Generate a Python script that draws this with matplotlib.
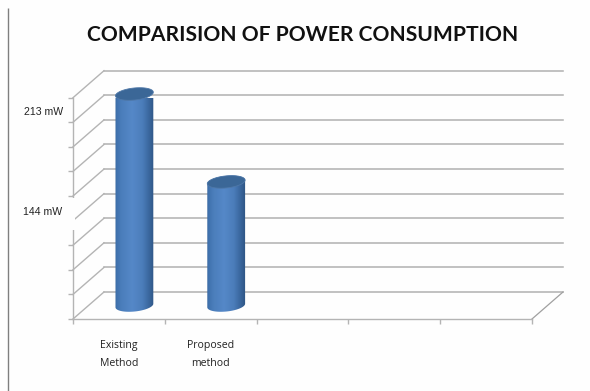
import matplotlib
matplotlib.use('Agg')
import matplotlib.pyplot as plt
import numpy as np
from matplotlib.patches import Polygon, Rectangle

title = 'COMPARISION OF POWER CONSUMPTION'
methods = ['Existing\nMethod', 'Proposed\nmethod']
power_mw = [213, 144]
power_labels = ['213 mW', '144 mW']

W, H = 590, 391
LEFT, RIGHT, TOP, BOTTOM = 73, 532, 97.7, 319   # front plane, pixels
Y0, GRID_STEP, N_GRID = 47, 19.3, 9             # value axis does not start at zero
N_SLOTS = 5

GRID = '#b4b4b4'
plt.rcParams['font.family'] = ['Liberation Sans', 'DejaVu Sans']

fig = plt.figure(figsize=(W / 100, H / 100), dpi=100, facecolor='#fefefe')
ax = fig.add_axes([LEFT / W, 1 - BOTTOM / H, (RIGHT - LEFT) / W, (BOTTOM - TOP) / H])
ax.patch.set_alpha(0)
y_max = Y0 + N_GRID * GRID_STEP
ax.set_xlim(0, N_SLOTS)
ax.set_ylim(Y0, y_max)

# pixels to data units
px_x = N_SLOTS / (RIGHT - LEFT)
px_y = (y_max - Y0) / (BOTTOM - TOP)
depth_x, depth_y = 31 * px_x, 27 * px_y

# back wall, side wall and floor
levels = Y0 + GRID_STEP * np.arange(N_GRID + 1)
for lev in levels:
    ax.plot([depth_x, N_SLOTS + depth_x], [lev + depth_y] * 2, color=GRID, lw=1.15, clip_on=False, zorder=1)
    ax.plot([0, depth_x], [lev, lev + depth_y], color=GRID, lw=1.0, clip_on=False, zorder=1)
ax.plot([N_SLOTS, N_SLOTS + depth_x], [Y0, Y0 + depth_y], color='#a0a0a0', lw=0.9, clip_on=False, zorder=1)

for s in ['top', 'right']:
    ax.spines[s].set_visible(False)
for s in ['left', 'bottom']:
    ax.spines[s].set_color(GRID)
    ax.spines[s].set_linewidth(1.0)
ax.set_yticks(levels)
ax.set_yticklabels([])
ax.set_xticks(np.arange(N_SLOTS + 1))
ax.set_xticklabels([])
ax.tick_params(axis='both', which='major', color=GRID, width=1.0, length=3.6)
ax.set_xticks(np.arange(len(methods)) + 0.5, minor=True)
ax.set_xticklabels(methods, minor=True, family='Open Sans', fontsize=7.6, color='#222222', linespacing=1.95)
ax.tick_params(axis='x', which='minor', length=0, pad=15)


def ellipse_pts(cx, cy, t, a=19.0, b=6.0, tilt=np.radians(6)):
    dx = a * np.cos(t) * np.cos(tilt) - b * np.sin(t) * np.sin(tilt)
    dy = a * np.cos(t) * np.sin(tilt) + b * np.sin(t) * np.cos(tilt)
    return np.column_stack([cx + dx * px_x, cy + dy * px_y])


# colour across the cylinder: dark rim, light middle
stops = [0.0, 0.05, 0.18, 0.45, 0.7, 0.86, 1.0]
rgb = np.array([[0x30, 0x5c, 0x92], [0x3e, 0x70, 0xac], [0x4b, 0x7e, 0xbb], [0x55, 0x88, 0xc8],
                [0x4b, 0x7d, 0xba], [0x3a, 0x67, 0x9e], [0x2e, 0x54, 0x82]]) / 255
u = np.linspace(0, 1, 80)
shade = np.column_stack([np.interp(u, stops, rgb[:, i]) for i in range(3)])[None, :, :]

half_w = 20 * px_x
for i, value in enumerate(power_mw):
    cx = i + 0.5 + depth_x / 2
    base = Y0 + depth_y / 2
    top = value + depth_y / 2
    lower = ellipse_pts(cx, base, np.linspace(np.pi, 2 * np.pi, 50))
    upper = ellipse_pts(cx, top, np.linspace(0, np.pi, 50))
    body = Polygon(np.vstack([lower, upper]), closed=True, transform=ax.transData, fc='none', ec='none')
    ax.add_patch(body)
    im = ax.imshow(shade, extent=[cx - half_w, cx + half_w, Y0, y_max + depth_y], aspect='auto',
                   zorder=3, interpolation='bilinear')
    im.set_clip_path(body)
    im.set_clip_on(True)
    cap = ellipse_pts(cx, top, np.linspace(0, 2 * np.pi, 100))
    ax.add_patch(Polygon(cap, closed=True, fc='#3b6797', ec='#4f78a8', lw=0.6, zorder=4, clip_on=False))
ax.set_xlim(0, N_SLOTS)
ax.set_ylim(Y0, y_max)

# full-figure overlay in pixel coordinates, y downwards
over = fig.add_axes([0, 0, 1, 1])
over.set_xlim(0, W)
over.set_ylim(H, 0)
over.axis('off')
over.patch.set_alpha(0)
over.plot([8.3, 8.3], [8, H], color='#7f7f7f', lw=1.0, solid_capstyle='butt')
over.add_patch(Rectangle((18, 198), 56.5, 32, fc='#fefefe', ec='none'))
over.text(43.5, 112, power_labels[0], ha='center', va='center', fontsize=7.6, color='#222222')
over.text(43, 212, power_labels[1], ha='center', va='center', fontsize=7.6, color='#222222')
over.text(302.5, 35, title, ha='center', va='center', family='Lato', fontsize=15.1,
          fontweight='bold', color='#111111')

plt.savefig('out.png', dpi=100, facecolor=fig.get_facecolor())
